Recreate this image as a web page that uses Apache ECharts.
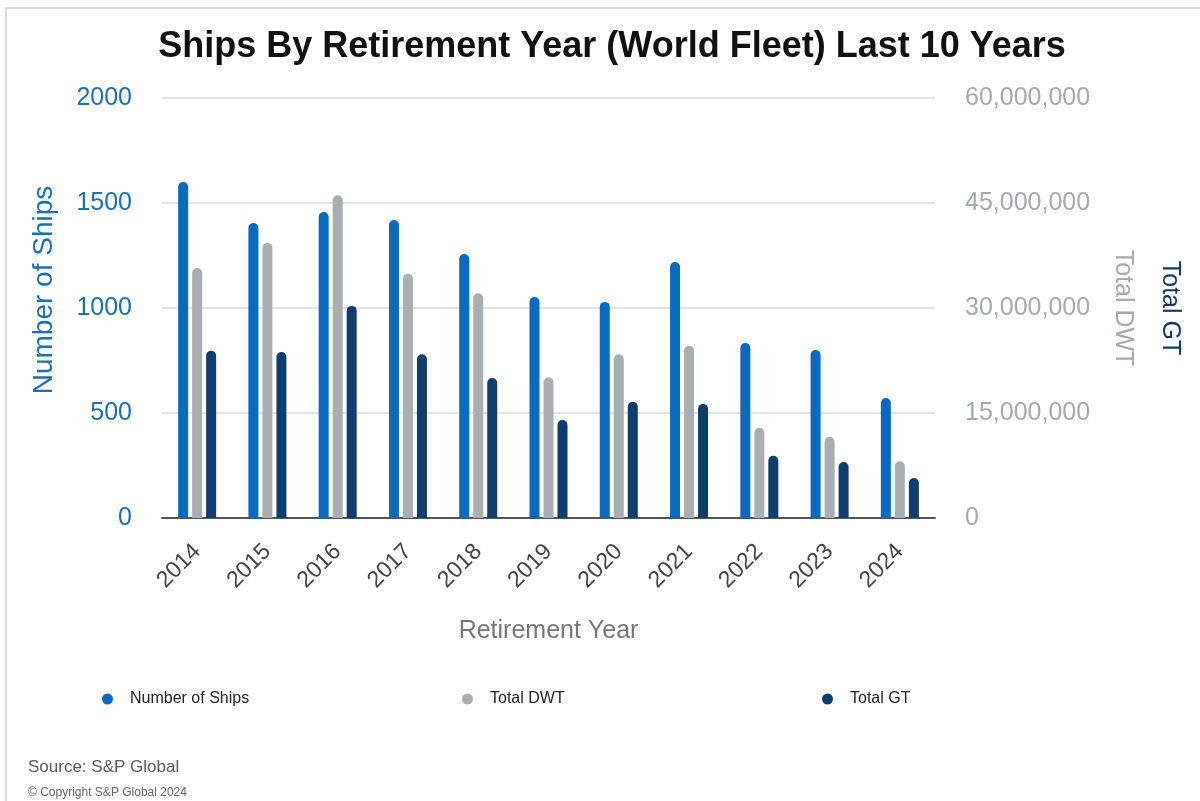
<!DOCTYPE html>
<html>
<head>
<meta charset="utf-8">
<script src="https://cdn.jsdelivr.net/npm/echarts@6/dist/echarts.min.js"></script>
<style>html,body{margin:0;padding:0;background:#fff}#c{width:1200px;height:801px}</style>
</head>
<body>
<div id="c"></div>
<script>
const years = ['2014','2015','2016','2017','2018','2019','2020','2021','2022','2023','2024'];
const numberOfShips = [1600, 1405, 1457, 1419, 1257, 1052, 1029, 1219, 833, 800, 571];
const totalDWT = [35700000, 39300000, 46100000, 34900000, 32100000, 20100000, 23400000, 24600000, 12900000, 11600000, 8100000];
const totalGT = [23900000, 23700000, 30300000, 23400000, 20000000, 14000000, 16600000, 16300000, 8900000, 8000000, 5700000];
const leftTicks = [0, 500, 1000, 1500, 2000];
const rightTicks = [0, 15000000, 30000000, 45000000, 60000000];

const FONT = '"Liberation Sans", Arial, sans-serif';
const C_BLUE = '#0a6abf', C_GRAY = '#a9aeb3', C_DARK = '#0f3d6e';

const chart = echarts.init(document.getElementById('c'));
const legendBase = { icon: 'circle', itemWidth: 11, itemHeight: 14, symbolKeepAspect: false, textStyle: { fontSize: 16, color: '#222', padding: [0,0,0,12] } };
chart.setOption({
  animation: false,
  backgroundColor: '#fff',
  textStyle: { fontFamily: FONT },
  graphic: [
    { type: 'rect', shape: { x: 6, y: 8, width: 1300, height: 900 }, style: { fill: 'none', stroke: '#dcdcdc', lineWidth: 2 }, silent: true },
    { type: 'text', left: 28, top: 759, style: { text: 'Source: S&P Global', fontFamily: FONT, fontSize: 17, fill: '#5a5a5a' } },
    { type: 'text', left: 28, top: 787, style: { text: '© Copyright S&P Global 2024', fontFamily: FONT, fontSize: 12, fill: '#666' } }
  ],
  title: {
    text: 'Ships By Retirement Year (World Fleet) Last 10 Years',
    left: 607, textAlign: 'center', top: 24,
    textStyle: { fontFamily: FONT, fontSize: 36, fontWeight: 'bold', color: '#111' }
  },
  legend: [
    Object.assign({ left: 97, top: 686, data: ['Number of Ships'] }, legendBase),
    Object.assign({ left: 457, top: 686, data: ['Total DWT'] }, legendBase),
    Object.assign({ left: 817, top: 686, data: ['Total GT'] }, legendBase)
  ],
  grid: { left: 162, right: 265, top: 98, bottom: 283 },
  xAxis: {
    type: 'category', data: years,
    name: 'Retirement Year', nameLocation: 'middle', nameGap: 101,
    nameTextStyle: { fontSize: 25, color: '#777' },
    axisLine: { lineStyle: { color: '#555', width: 2 } },
    axisTick: { show: false },
    axisLabel: { rotate: 45, fontSize: 23, color: '#444', margin: 30 }
  },
  yAxis: [
    {
      type: 'value', min: 0, max: 2000, interval: 500,
      name: 'Number of Ships', nameLocation: 'middle', nameGap: 104,
      nameTextStyle: { fontSize: 28, color: '#1b6fae', padding: [0, 0, 0, 36] },
      axisLabel: { fontSize: 25, color: '#1b6fae', margin: 30, formatter: v => leftTicks.includes(v) ? String(v) : '' },
      axisLine: { show: false }, axisTick: { show: false },
      splitLine: { lineStyle: { color: '#e3e3e3', width: 2 } }
    },
    {
      type: 'value', min: 0, max: 60000000, interval: 15000000, position: 'right',
      name: 'Total DWT', nameLocation: 'middle', nameGap: 175, nameRotate: -90,
      nameTextStyle: { fontSize: 25, color: '#a4a9ae' },
      axisLabel: { fontSize: 25, color: '#a4a9ae', margin: 30, formatter: v => rightTicks.includes(v) ? v.toLocaleString('en-US') : '' },
      axisLine: { show: false }, axisTick: { show: false }, splitLine: { show: false }
    },
    {
      type: 'value', min: 0, max: 60000000, interval: 15000000, position: 'right',
      name: 'Total GT', nameLocation: 'middle', nameGap: 222, nameRotate: -90,
      nameTextStyle: { fontSize: 25, color: '#14395f' },
      axisLabel: { show: false }, axisLine: { show: false }, axisTick: { show: false }, splitLine: { show: false }
    }
  ],
  series: [
    { name: 'Number of Ships', type: 'bar', yAxisIndex: 0, data: numberOfShips, barWidth: 10, barGap: '40%', itemStyle: { color: C_BLUE, borderRadius: [5,5,0,0] } },
    { name: 'Total DWT', type: 'bar', yAxisIndex: 1, data: totalDWT, barWidth: 10, barGap: '40%', itemStyle: { color: C_GRAY, borderRadius: [5,5,0,0] } },
    { name: 'Total GT', type: 'bar', yAxisIndex: 2, data: totalGT, barWidth: 10, barGap: '40%', itemStyle: { color: C_DARK, borderRadius: [5,5,0,0] } }
  ]
});
</script>
</body>
</html>
